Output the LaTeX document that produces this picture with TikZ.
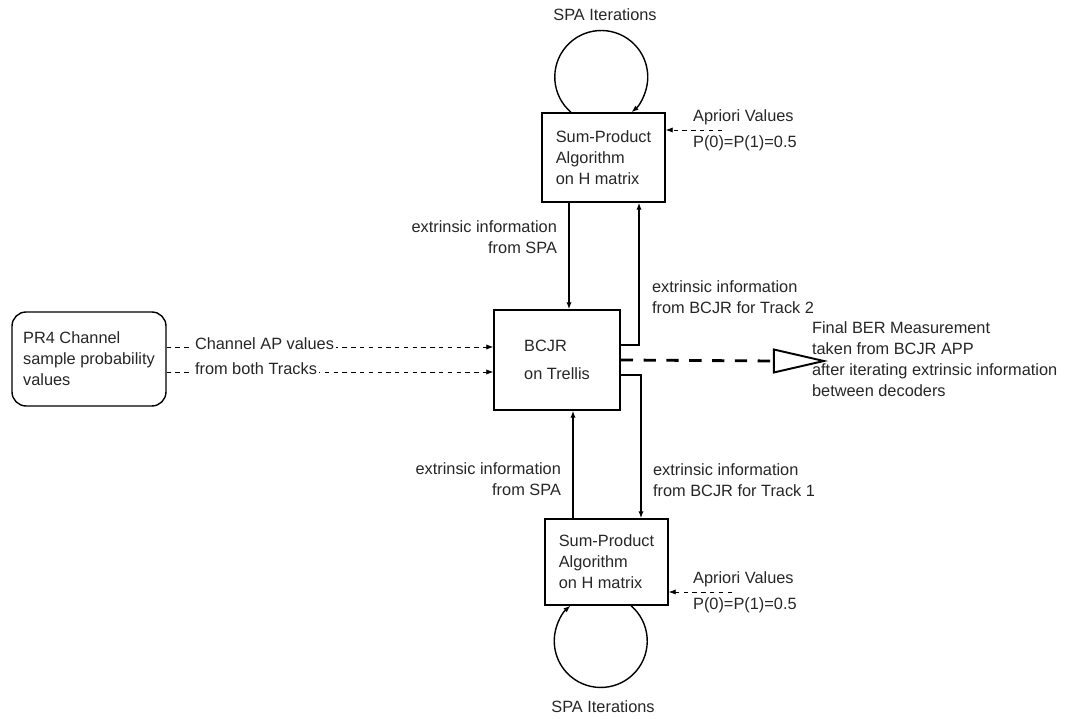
\documentclass[tikz,border=0pt]{standalone}
\usepackage{fontspec}
\setmainfont{Liberation Sans}
\usepackage{tikz}
\usetikzlibrary{arrows.meta, calc, shapes.geometric, positioning}

\begin{document}
\begin{tikzpicture}[x=0.02cm, y=0.02cm,
    every node/.style={font=\fontsize{9.3}{11.9}\selectfont, text=black!85},
    blk/.style={draw, line width=0.8pt, align=left, inner sep=0pt},
    arr/.style={-{Latex[length=4pt, width=3pt]}, line width=0.8pt},
    dasharr/.style={-{Latex[length=4pt, width=3pt]}, line width=0.5pt, dash pattern=on 2.5pt off 2.5pt},
    lbl/.style={align=left, inner sep=1pt}]
    \useasboundingbox (0,0) rectangle (1074,719);

    % Decoder blocks
    \node[blk, minimum width=2.46cm, minimum height=1.78cm] (spatop) at (603.5,561.5) {Sum-Product\\Algorithm\\on H matrix};
    \node[blk, minimum width=2.52cm, minimum height=2cm] (bcjr) at (557,359) {BCJR\\[4pt]on Trellis};
    \node[blk, minimum width=2.46cm, minimum height=1.72cm] (spabot) at (606.5,157) {Sum-Product\\Algorithm\\on H matrix};
    \node[blk, rounded corners=8pt, minimum width=3.08cm, minimum height=1.88cm] (pr4) at (89,360) {PR4 Channel\\sample probability\\values};

    % SPA iteration loops
    \draw[arr] (571,0 |- spatop.north) arc[start angle=229.4, end angle=-49.4, radius=0.93cm];
    \draw[arr] (631,0 |- spabot.south) arc[start angle=49.4, end angle=-229.4, radius=0.93cm];
    \node (itertop) at (605,704) {SPA Iterations};
    \node (iterbot) at (603,12) {SPA Iterations};

    % Extrinsic information exchange
    \draw[arr] (spatop.south -| 569,0) -- (bcjr.north -| 569,0);
    \draw[arr] (bcjr.east |- 0,374) -| (639,0 |- spatop.south);
    \draw[arr] (bcjr.east |- 0,344) -| (641,0 |- spabot.north);
    \draw[arr] (spabot.north -| 573,0) -- (bcjr.south -| 573,0);
    \node[lbl, anchor=east, align=right] (exttl) at (559,481.5) {extrinsic information\\from SPA};
    \node[lbl, anchor=west] (exttr) at (650,422) {extrinsic information\\from BCJR for Track 2};
    \node[lbl, anchor=east, align=right] (extbl) at (563,239.5) {extrinsic information\\from SPA};
    \node[lbl, anchor=west] (extbr) at (651,239) {extrinsic information\\from BCJR for Track 1};

    % Channel values
    \draw[dasharr] (pr4.east |- 0,372) -- (bcjr.west |- 0,372)
        node[pos=0.08, anchor=west, fill=white, inner sep=1pt, yshift=2pt] {Channel AP values};
    \draw[dasharr] (pr4.east |- 0,347) -- (bcjr.west |- 0,347)
        node[pos=0.08, anchor=west, fill=white, inner sep=1pt, yshift=2pt] {from both Tracks};

    % Apriori values
    \coordinate (aprtail1) at (722,589);
    \coordinate (aprtail2) at (732,127);
    \draw[dasharr] (aprtail1) -- (spatop.east |- aprtail1);
    \draw[dasharr] (aprtail2) -- (spabot.east |- aprtail2);
    \node[lbl, anchor=west] (aprtop) at (691,589) {Apriori Values\\[3pt]P(0)=P(1)=0.5};
    \node[lbl, anchor=west] (aprbot) at (691,126.5) {Apriori Values\\[3pt]P(0)=P(1)=0.5};

    % Final BER measurement
    \node[draw, line width=1.1pt, isosceles triangle, isosceles triangle stretches, minimum width=0.46cm, minimum height=1cm, inner sep=0pt] (meas) at (783,358) {};
    \draw[line width=1.6pt, dash pattern=on 7pt off 6pt] (bcjr.east) -- (meas.west);
    \node[lbl, anchor=west] (ber) at (810,359.5) {Final BER Measurement\\taken from BCJR APP\\after iterating extrinsic information\\between decoders};
\end{tikzpicture}
\end{document}
